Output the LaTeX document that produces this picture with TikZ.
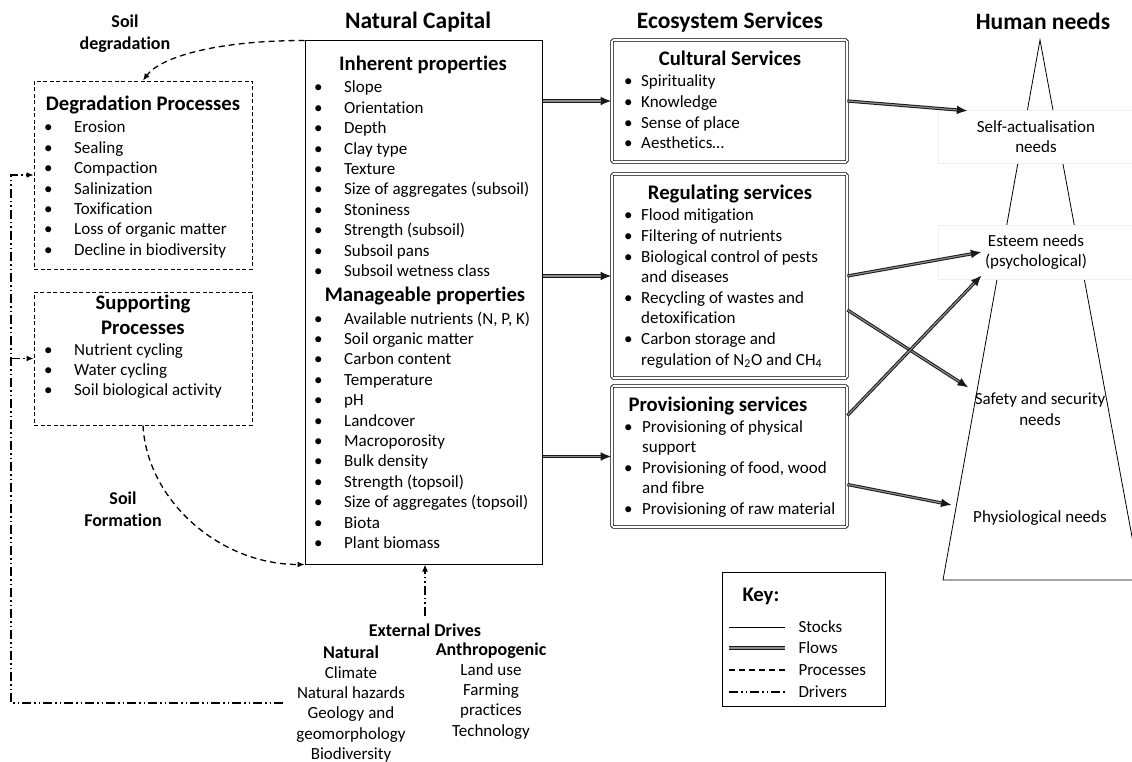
\documentclass[tikz,border=0pt]{standalone}
\usepackage{fontspec}
\setmainfont{Carlito}[Ligatures=NoCommon]
\usetikzlibrary{arrows.meta,positioning,calc}
\newcommand{\bodyfont}{\fontsize{17}{20.4}\selectfont}
\newcommand{\servfont}{\fontsize{17}{20.6}\selectfont}
\newcommand{\headfont}{\fontsize{23.5}{28}\selectfont\bfseries}
\newcommand{\titlefont}{\fontsize{20.7}{25}\selectfont\bfseries}
\newcommand{\labfont}{\fontsize{18}{22}\selectfont\bfseries}
\newcommand{\itm}[2]{\makebox[#1][l]{\textbullet}#2}
\newcommand{\lst}[1]{\begin{tabular}[t]{@{}l@{}}#1\end{tabular}}
\newcommand{\clst}[1]{\begin{tabular}[t]{@{}c@{}}#1\end{tabular}}

\begin{document}
\begin{tikzpicture}[x=1pt,y=-1pt,
  stockbox/.style={draw,line width=1pt,inner sep=0pt},
  servbox/.style={draw,double,double distance=1.6pt,line width=0.8pt,rounded corners=1.5pt,inner sep=0pt},
  procbox/.style={draw,line width=0.9pt,dash pattern=on 4pt off 2.5pt,inner sep=0pt},
  needbox/.style={fill=white,draw=black!6,inner sep=0pt,align=center,font=\bodyfont},
  itemlist/.style={anchor=base west,inner sep=0pt,font=\bodyfont},
  flowline/.style={line width=3.2pt,draw=black!90,postaction={draw=black!45,line width=1.2pt}},
  flow/.style={line width=3.2pt,draw=black!90,-{Latex[length=11pt,width=9pt]},
    postaction={draw=black!45,line width=1.2pt,-,shorten >=11pt,shorten <=0.6pt}},
  proc/.style={line width=1.3pt,dash pattern=on 6pt off 4pt,-{Latex[length=7pt,width=6pt]}},
  drive/.style={line width=1.3pt,dash pattern=on 9pt off 3pt on 1.5pt off 3pt on 1.5pt off 3pt,-{Latex[length=7pt,width=6pt]}}]
  \useasboundingbox (0,0) rectangle (1132,762);
  \clip (0,0) rectangle (1132,762);

  % column headings
  \node[font=\headfont,anchor=base] (nctitle) at (418,29) {Natural Capital};
  \node[font=\headfont,anchor=base] (estitle) at (730,29) {Ecosystem Services};
  \node[font=\headfont,anchor=base] (hntitle) at (1043,30) {Human needs};

  % natural capital (stock)
  \node[stockbox,minimum width=237pt,minimum height=523pt] (nc) at (423.5,302.5) {};
  \node[font=\titlefont,anchor=base] (inhtitle) at (423,71) {Inherent properties};
  \node[itemlist] (inh) at (314,93) {\lst{\itm{30pt}{Slope}\\ \itm{30pt}{Orientation}\\
    \itm{30pt}{Depth}\\ \itm{30pt}{Clay type}\\ \itm{30pt}{Texture}\\
    \itm{30pt}{Size of aggregates (subsoil)}\\ \itm{30pt}{Stoniness}\\
    \itm{30pt}{Strength (subsoil)}\\ \itm{30pt}{Subsoil pans}\\ \itm{30pt}{Subsoil wetness class}}};
  \node[font=\titlefont,anchor=base] (mantitle) at (425,301) {Manageable properties};
  \node[itemlist] (man) at (314,324) {\lst{\itm{30pt}{Available nutrients (N, P, K)}\\
    \itm{30pt}{Soil organic matter}\\ \itm{30pt}{Carbon content}\\ \itm{30pt}{Temperature}\\
    \itm{30pt}{pH}\\ \itm{30pt}{Landcover}\\ \itm{30pt}{Macroporosity}\\ \itm{30pt}{Bulk density}\\
    \itm{30pt}{Strength (topsoil)}\\ \itm{30pt}{Size of aggregates (topsoil)}\\
    \itm{30pt}{Biota}\\ \itm{30pt}{Plant biomass}}};

  % processes
  \node[procbox,minimum width=218pt,minimum height=188pt] (deg) at (143,175) {};
  \node[font=\titlefont,anchor=base] (degtitle) at (143,111) {Degradation Processes};
  \node[itemlist] (degl) at (44,133) {\lst{\itm{30pt}{Erosion}\\ \itm{30pt}{Sealing}\\
    \itm{30pt}{Compaction}\\ \itm{30pt}{Salinization}\\ \itm{30pt}{Toxification}\\
    \itm{30pt}{Loss of organic matter}\\ \itm{30pt}{Decline in biodiversity}}};
  \node[procbox,minimum width=218pt,minimum height=133pt] (sup) at (143,358.5) {};
  \node[font=\titlefont,anchor=base,inner sep=0pt] (suptitle) at (143,309) {\clst{Supporting\\Processes}};
  \node[itemlist] (supl) at (44,355) {\lst{\itm{30pt}{Nutrient cycling}\\
    \itm{30pt}{Water cycling}\\ \itm{30pt}{Soil biological activity}}};
  \node[font=\labfont,align=center] (sdeg) at (125,34) {Soil\\degradation};
  \node[font=\labfont,align=center] (sform) at (123,509) {Soil\\Formation};

  % ecosystem services
  \node[servbox,minimum width=235pt,minimum height=122pt] (cult) at (729.5,101) {};
  \node[font=\titlefont,anchor=base] (culttitle) at (730,66) {Cultural Services};
  \node[itemlist,font=\servfont] (cultl) at (624,87) {\lst{\itm{17pt}{Spirituality}\\
    \itm{17pt}{Knowledge}\\ \itm{17pt}{Sense of place}\\ \itm{17pt}{Aesthetics…}}};
  \node[servbox,minimum width=235pt,minimum height=204pt] (reg) at (729.5,276) {};
  \node[font=\titlefont,anchor=base] (regtitle) at (730,200) {Regulating services};
  \node[itemlist,font=\servfont] (regl) at (624,221) {\lst{\itm{17pt}{Flood mitigation}\\
    \itm{17pt}{Filtering of nutrients}\\ \itm{17pt}{Biological control of pests}\\
    \hspace*{17pt}and diseases\\ \itm{17pt}{Recycling of wastes and}\\ \hspace*{17pt}detoxification\\
    \itm{17pt}{Carbon storage and}\\ \hspace*{17pt}regulation of N\textsubscript{2}O and CH\textsubscript{4}}};
  \node[servbox,minimum width=235pt,minimum height=141pt] (prov) at (729.5,456.5) {};
  \node[font=\titlefont,anchor=base west] (provtitle) at (625,411) {Provisioning services};
  \node[itemlist,font=\servfont] (provl) at (624,432) {\lst{\itm{18pt}{Provisioning of physical}\\
    \hspace*{18pt}support\\ \itm{18pt}{Provisioning of food, wood}\\ \hspace*{18pt}and fibre\\
    \itm{18pt}{Provisioning of raw material}}};

  % human needs pyramid
  \draw[line width=0.8pt] (1040,40) -- (943,580) -- (1140,580) -- cycle;
  \node[needbox,minimum width=196pt,minimum height=53pt] (self) at (1036,136.5) {Self-actualisation\\needs};
  \node[needbox,minimum width=196pt,minimum height=54pt] (est) at (1036,252) {Esteem needs\\(psychological)};
  \node[align=center,font=\bodyfont,inner sep=0pt] (safe) at (1040,409) {Safety and security\\needs};
  \node[font=\bodyfont,inner sep=0pt] (phys) at (1040,518) {Physiological needs};

  % flows
  \coordinate (selfin) at ($(self.north west)+(30,1)$);
  \coordinate (estin1) at ($(est.west)+(44,0)$);
  \coordinate (estin2) at ($(est.south west)+(44,-4)$);
  \coordinate (safein) at ($(safe.north west)+(-6,-5)$);
  \coordinate (physin) at ($(phys.west)+(-21,-13)$);
  \draw[flow] (nc.east |- cult.west) -- (cult.west);
  \draw[flow] (nc.east |- reg.west) -- (reg.west);
  \draw[flow] (nc.east |- prov.west) -- (prov.west);
  \draw[flow] (cult.east) -- (selfin);
  \draw[flow] (reg.east) -- (estin1);
  \draw[flow] ($(reg.east)+(0,34)$) -- (safein);
  \draw[flow] ($(prov.east)+(0,-41)$) -- (estin2);
  \draw[flow] ($(prov.east)+(0,28)$) -- (physin);

  % processes
  \draw[proc] (nc.north west) .. controls +(-90,0) and +(17,-23) .. (deg.north);
  \draw[proc] (sup.south) .. controls +(4,75) and +(-85,0) .. (nc.south west);

  % drivers
  \node[font=\labfont,anchor=base] (drv) at (425,636) {External Drives};
  \node[font=\labfont,anchor=base] (nat) at (351,658) {Natural};
  \node[font=\labfont,anchor=base] (anth) at (491,655) {Anthropogenic};
  \node[anchor=base,inner sep=0pt,font=\bodyfont] (natl) at (351,678)
    {\clst{Climate\\Natural hazards\\Geology and\\geomorphology\\Biodiversity}};
  \node[anchor=base,inner sep=0pt,font=\bodyfont] (anthl) at (491,675)
    {\clst{Land use\\Farming\\practices\\Technology}};
  \coordinate (drvstart) at (283,703);
  \coordinate (drvcorner) at (11,703);
  \draw[drive] ([yshift=4pt]drv.north) -- (drv.north |- nc.south);
  \draw[drive] (drvstart) -- (drvcorner) |- (deg.west);
  \draw[drive] (drvcorner |- sup.west) -- (sup.west);

  % key
  \node[stockbox,minimum width=163pt,minimum height=134pt] (key) at (803.5,639) {};
  \node[font=\titlefont,anchor=base west] (keytitle) at (739,601) {Key:};
  \draw[line width=1pt] (729,627) -- (785,627);
  \draw[flowline] (729,648) -- (785,648);
  \draw[proc,-] (729,670) -- (785,670);
  \draw[drive,-] (729,692) -- (785,692);
  \node[font=\bodyfont,anchor=west] (kstock) at (795,627) {Stocks};
  \node[font=\bodyfont,anchor=west] (kflow) at (795,648) {Flows};
  \node[font=\bodyfont,anchor=west] (kproc) at (795,670) {Processes};
  \node[font=\bodyfont,anchor=west] (kdrv) at (795,692) {Drivers};
\end{tikzpicture}
\end{document}
